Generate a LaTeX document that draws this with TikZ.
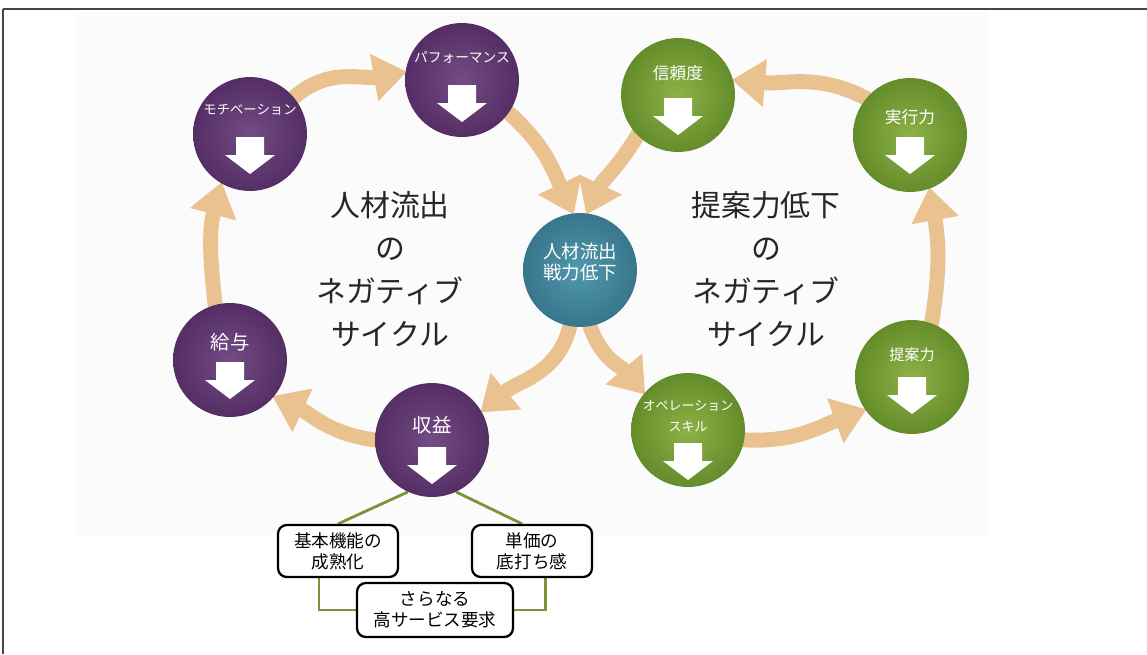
\documentclass[tikz,border=0pt]{standalone}
\usepackage{fontspec}
\newfontfamily\cjk{Noto Sans CJK JP}
\usetikzlibrary{arrows.meta,calc,backgrounds}
\definecolor{arrowtan}{RGB}{234,194,144}
\definecolor{purpl}{RGB}{116,76,134}
\definecolor{purpd}{RGB}{84,46,100}
\definecolor{grnl}{RGB}{140,178,70}
\definecolor{grnd}{RGB}{100,140,42}
\definecolor{teall}{RGB}{80,152,174}
\definecolor{teald}{RGB}{56,118,140}
\definecolor{oliveline}{RGB}{122,148,58}
\definecolor{framegray}{RGB}{70,70,70}
\newcommand\whitearrow[2]{\fill[white] ($(#1)+(-14,#2)$) -- ++(28,0) -- ++(0,-18) -- ++(11,0) -- ++(-25,-19) -- ++(-25,19) -- ++(11,0) -- cycle;}
\tikzset{
  cyc/.style={line width=8.5pt, draw=arrowtan, -{Triangle[width=26pt,length=19pt]}, shorten <=-4pt, shorten >=-1pt},
  pball/.style={circle, minimum size=2.28cm, inner sep=0pt, inner color=purpl, outer color=purpd},
  gball/.style={circle, minimum size=2.28cm, inner sep=0pt, inner color=grnl, outer color=grnd},
  tball/.style={circle, minimum size=2.28cm, inner sep=0pt, inner color=teall, outer color=teald},
  lbl/.style={text=white, inner sep=0pt, align=center},
  bigtxt/.style={font=\cjk\fontsize{17}{24.5}\selectfont, align=center, text=black!85},
  txtbox/.style={draw=black, line width=1.3pt, rounded corners=5pt, fill=white, minimum width=2.4cm, minimum height=1.04cm, align=center, font=\cjk\fontsize{10}{12}\selectfont, inner sep=1pt},
  gline/.style={draw=oliveline, line width=1.6pt},
  frameline/.style={draw=framegray, line width=1.2pt},
}
\begin{document}
\begin{tikzpicture}[x=0.02cm, y=0.02cm]
\useasboundingbox (0,0) rectangle (1147,-654);
% circles
\node[pball] (moti) at (250,-134) {};
\node[pball] (perf) at (462,-80) {};
\node[gball] (shinrai) at (678,-95) {};
\node[gball] (jikko) at (910,-135) {};
\node[pball] (kyuyo) at (230,-360) {};
\node[tball] (center) at (580,-270) {};
\node[pball] (shueki) at (432,-440) {};
\node[gball] (teian) at (912,-377) {};
\node[gball] (ope) at (688,-430) {};
% labels
\node[lbl, font=\cjk\fontsize{7.6}{9}\selectfont] (motit) at ($(moti)+(0,24)$) {モチベーション};
\node[lbl, font=\cjk\fontsize{7.8}{9}\selectfont] (perft) at ($(perf)+(0,23)$) {パフォーマンス};
\node[lbl, font=\cjk\fontsize{9.5}{11}\selectfont] (shinrait) at ($(shinrai)+(0,22)$) {信頼度};
\node[lbl, font=\cjk\fontsize{9.5}{11}\selectfont] (jikkot) at ($(jikko)+(0,18)$) {実行力};
\node[lbl, font=\cjk\fontsize{11}{13}\selectfont] (kyuyot) at ($(kyuyo)+(0,18)$) {給与};
\node[lbl, font=\cjk\fontsize{11}{13}\selectfont] (shuekit) at ($(shueki)+(0,15)$) {収益};
\node[lbl, font=\cjk\fontsize{8.6}{10}\selectfont] (teiant) at ($(teian)+(0,22)$) {提案力};
\node[lbl, font=\cjk\fontsize{7.4}{12}\selectfont] (opet) at ($(ope)+(0,14)$) {オペレーション\\スキル};
\node[lbl, font=\cjk\fontsize{10.5}{12}\selectfont] (centert) at ($(center)+(0,8)$) {人材流出\\戦力低下};
% white arrows
\whitearrow{moti}{-3}
\whitearrow{perf}{-5}
\whitearrow{shinrai}{-3}
\whitearrow{jikko}{-2}
\whitearrow{kyuyo}{-2}
\whitearrow{shueki}{-7}
\whitearrow{teian}{0}
\whitearrow{ope}{-13}
% big texts
\node[bigtxt] (lefttitle) at (390,-269) {人材流出\\の\\ネガティブ\\サイクル};
\node[bigtxt] (righttitle) at (766,-269) {提案力低下\\の\\ネガティブ\\サイクル};
% boxes
\node[txtbox] (box1) at (338,-551) {基本機能の\\成熟化};
\node[txtbox] (box2) at (532,-551) {単価の\\底打ち感};
\node[txtbox, minimum width=3.12cm, minimum height=1.08cm] (box3) at (435,-610) {さらなる\\高サービス要求};
\begin{pgfonlayer}{background}
\fill[black!1.5] (75,-12) rectangle (988,-535);
\draw[frameline] (3,-9) -- (1147,-9);
\draw[frameline] (3,-9) -- (3,-654);
% left loop
\draw[cyc] (kyuyo.105) to[out=97,in=-105] (moti.-120);
\draw[cyc] (moti.40) to[out=45,in=190] (perf.172);
\draw[cyc] (perf.-35) to[out=-40,in=115] (center.97);
\draw[cyc] (center.-100) to[out=-100,in=40] (shueki.30);
\draw[cyc] (shueki.180) to[out=175,in=-25] (kyuyo.-40);
% right loop
\draw[cyc] (center.-80) to[out=-75,in=130] (ope.140);
\draw[cyc] (ope.-10) to[out=-5,in=200] (teian.215);
\draw[cyc] (teian.70) to[out=80,in=-80] (jikko.-70);
\draw[cyc] (jikko.140) to[out=150,in=-5] (shinrai.15);
\draw[cyc] (shinrai.-135) to[out=-120,in=65] (center.83);
% green connectors
\draw[gline] (shueki.-115) -- (box1.north);
\draw[gline] (shueki.-65) -- (box2.110);
\draw[gline] (box1.235) |- (box3.west);
\draw[gline] (box2.-63) |- (box3.east);
\end{pgfonlayer}
\end{tikzpicture}
\end{document}
